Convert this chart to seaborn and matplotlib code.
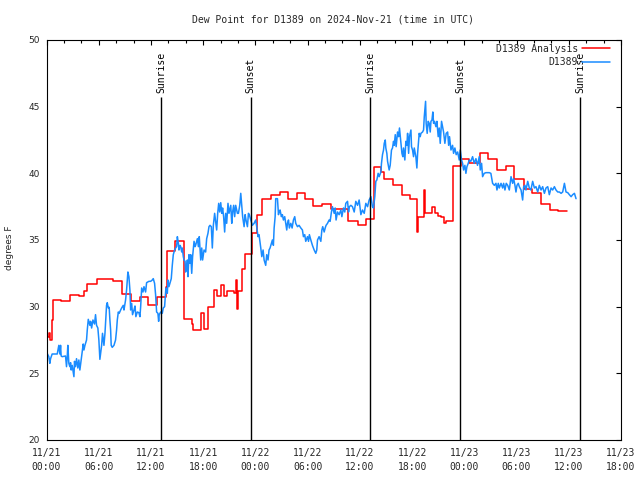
import matplotlib
matplotlib.use("Agg")
import matplotlib.pyplot as plt
from matplotlib.ticker import MultipleLocator
import numpy as np
import pandas as pd
import seaborn as sns

# ---------------- data ----------------
title = "Dew Point for D1389 on 2024-Nov-21 (time in UTC)"
xtick_labels = ["11/21\n00:00", "11/21\n06:00", "11/21\n12:00", "11/21\n18:00",
                "11/22\n00:00", "11/22\n06:00", "11/22\n12:00", "11/22\n18:00",
                "11/23\n00:00", "11/23\n06:00", "11/23\n12:00", "11/23\n18:00"]
yticks = [20, 25, 30, 35, 40, 45, 50]

# sun events (minutes after 11/21 00:00 UTC)
sun_names = ["Sunrise", "Sunset", "Sunrise", "Sunset", "Sunrise"]
sun_minutes = [789, 1407, 2232, 2851, 3679]

# D1389 Analysis (step series): minutes after start, value (deg F)
red_minutes = [0, 16, 23, 39, 43, 101, 161, 223, 257, 281,
               345, 395, 460, 522, 584, 642, 699, 762, 821, 828,
               883, 947, 1005, 1012, 1067, 1085, 1113, 1154, 1178, 1200,
               1223, 1247, 1290, 1304, 1311, 1318, 1350, 1368, 1419, 1449,
               1488, 1545, 1610, 1665, 1725, 1782, 1840, 1897, 1959, 2079,
               2144, 2201, 2258, 2309, 2323, 2385, 2447, 2506, 2557, 2562,
               2603, 2610, 2654, 2677, 2698, 2718, 2741, 2753, 2803, 2856,
               2913, 2989, 3045, 3105, 3167, 3224, 3289, 3344, 3408, 3472,
               3528, 3585]
red_values = [27.7, 28.0, 27.5, 29.0, 30.5, 30.4, 30.9, 30.8, 31.2, 31.7,
              32.1, 32.05, 31.9, 30.95, 30.4, 30.7, 30.1, 30.7, 31.5, 34.2,
              34.9, 29.05, 28.7, 28.25, 29.55, 28.3, 29.95, 31.25, 30.8, 31.6,
              30.8, 31.2, 31.0, 32.0, 29.8, 31.2, 32.8, 33.95, 35.5, 36.9,
              38.05, 38.4, 38.6, 38.05, 38.5, 38.05, 37.55, 37.7, 37.3, 36.4,
              36.1, 36.55, 40.5, 40.1, 39.6, 39.1, 38.4, 38.1, 35.6, 36.75,
              38.75, 37.0, 37.45, 37.0, 36.8, 36.75, 36.3, 36.4, 40.55, 41.1,
              40.8, 41.5, 41.1, 40.25, 40.55, 39.6, 38.8, 38.55, 37.7, 37.25,
              37.15, 37.15]

# D1389 observations
blue_minutes = [
    0, 16, 23, 28, 39, 74, 85, 92, 97, 101, 108, 131, 138, 143, 147, 154, 161, 166, 170, 177,
    189, 193, 200, 207, 216, 223, 230, 239, 246, 253, 258, 265, 276, 281, 288, 299, 304, 311, 320, 331,
    338, 345, 354, 361, 368, 373, 380, 386, 396, 403, 409, 414, 419, 426, 432, 437, 442, 446, 453, 465,
    476, 483, 488, 495, 501, 511, 518, 529, 534, 545, 552, 561, 568, 575, 580, 587, 593, 603, 610, 616,
    626, 637, 644, 649, 656, 665, 672, 683, 690, 706,
    718, 729, 736, 745, 752, 759, 768, 773, 777, 787, 798, 805, 814, 819, 823, 833, 837, 844, 851, 860,
    867, 874, 879, 883, 890, 897, 902, 909, 913, 920, 925, 932, 936, 943, 948, 955, 959, 966, 971, 975,
    982, 989, 994, 1001, 1007, 1017, 1024, 1028, 1040, 1047, 1053, 1063, 1070, 1076, 1086, 1097, 1104, 1113, 1120, 1127,
    1136, 1143, 1150, 1159, 1166, 1173, 1180, 1187, 1194, 1201, 1208, 1214, 1221, 1228, 1235, 1242, 1251, 1258, 1270, 1277,
    1283, 1290, 1297, 1304, 1316, 1323, 1332, 1339, 1346, 1352, 1362, 1369, 1375, 1385, 1392, 1398,
    1408, 1419, 1431, 1442, 1449, 1458, 1465, 1477, 1484, 1493, 1500, 1511, 1518, 1527, 1534, 1541, 1550, 1557, 1564, 1569,
    1576, 1580, 1592, 1599, 1603, 1610, 1619, 1626, 1633, 1642, 1649, 1656, 1661, 1668, 1674, 1684, 1693, 1702, 1711, 1718,
    1730, 1741, 1753, 1764, 1771, 1780, 1787, 1799, 1806, 1812, 1822, 1833, 1845, 1856, 1863, 1868, 1879, 1891, 1898, 1904,
    1914, 1921, 1927, 1937, 1948, 1955, 1964, 1971, 1983, 1990, 1996, 2006, 2017, 2029, 2036, 2047, 2056, 2063, 2075, 2082,
    2088, 2098, 2109, 2121, 2132, 2144, 2155,
    2167, 2178, 2190, 2201, 2213, 2224, 2236, 2247, 2254, 2263, 2270, 2277, 2286, 2293, 2305, 2309, 2316, 2323, 2328, 2335,
    2339, 2346, 2351, 2362, 2369, 2378, 2385, 2392, 2397, 2404, 2410, 2420, 2427, 2433, 2443, 2450, 2456, 2461, 2470, 2477,
    2484, 2489, 2496, 2502, 2512, 2516, 2523, 2530, 2535, 2546, 2553, 2558, 2565, 2569, 2576, 2581, 2592, 2599, 2604, 2608,
    2613, 2617, 2624, 2631, 2638, 2645, 2650, 2657, 2663, 2668, 2675, 2684, 2691, 2700, 2707, 2714, 2723, 2730, 2737, 2746,
    2755, 2765, 2772, 2778,
    2788, 2799, 2806, 2815, 2824, 2834, 2845, 2852, 2861, 2868, 2875, 2884, 2891, 2898, 2907, 2914, 2925, 2937, 2948, 2960,
    2971, 2983, 2990, 2999, 3006, 3017, 3029, 3040, 3052, 3063, 3075, 3087, 3098, 3105, 3114, 3121, 3133, 3144, 3151, 3160,
    3169, 3179, 3190, 3202, 3213, 3220, 3229, 3236, 3243, 3252, 3259, 3271, 3282, 3289, 3298, 3305, 3317, 3328, 3339, 3351,
    3363, 3374, 3386, 3397, 3409, 3420, 3432, 3443, 3455, 3466, 3478, 3489, 3501, 3512, 3524, 3535, 3547, 3558, 3570, 3581,
    3593, 3604, 3616, 3627, 3639, 3650]
blue_values = [
    26.6, 26.25, 25.75, 26.1, 26.45, 26.45, 27.1, 26.45, 27.1, 26.3, 26.25, 26.3, 25.5, 26.25, 27.1, 25.75, 25.5, 25.8, 25.25, 25.6,
    24.75, 25.9, 25.5, 26.1, 25.4, 26.0, 25.25, 26.0, 26.6, 27.2, 26.75, 27.1, 27.5, 28.25, 29.05, 28.6, 28.9, 28.4, 29.0, 28.7,
    29.4, 28.6, 28.4, 27.5, 26.05, 26.5, 27.1, 28.0, 27.1, 28.0, 29.1, 30.1, 30.3, 29.9, 29.95, 29.0, 28.25, 27.1, 26.95, 27.1,
    27.5, 28.25, 29.0, 29.6, 29.5, 29.75, 29.9, 30.1, 29.75, 30.5, 31.25, 32.6, 32.25, 31.25, 29.75, 30.25, 29.4, 29.75, 30.05, 29.25,
    29.6, 29.55, 29.25, 30.0, 31.4, 31.1, 31.5, 31.1, 31.8, 31.9,
    31.9, 32.0, 32.1, 31.75, 30.9, 29.6, 29.5, 28.9, 29.4, 29.6, 29.5, 29.9, 30.0, 30.75, 31.4, 31.0, 32.0, 31.5, 31.75, 32.1,
    33.1, 33.9, 34.1, 34.25, 34.4, 34.5, 35.25, 34.75, 34.25, 34.6, 34.5, 34.1, 34.4, 33.75, 33.5, 33.4, 32.6, 32.9, 33.5, 32.25,
    33.9, 33.25, 33.9, 32.5, 33.75, 34.9, 34.5, 34.6, 35.1, 34.5, 35.25, 33.5, 34.4, 33.5, 34.25, 34.1, 35.1, 35.5, 36.0, 36.1,
    36.0, 34.4, 36.1, 37.0, 36.4, 35.75, 37.0, 37.75, 37.1, 37.8, 37.0, 37.4, 36.75, 35.6, 37.0, 36.25, 37.75, 37.0, 37.6, 36.25,
    37.1, 37.6, 36.75, 37.6, 37.0, 37.0, 37.6, 38.5, 37.5, 36.75, 36.0, 36.9, 36.5, 36.0, 37.0, 36.9,
    36.5, 36.1, 36.25, 36.5, 36.0, 35.25, 35.4, 34.4, 33.75, 34.25, 33.5, 33.1, 33.9, 33.5, 34.25, 34.4, 34.75, 35.0, 34.6, 35.9,
    36.75, 38.1, 38.1, 36.9, 37.1, 37.25, 36.75, 36.9, 36.5, 36.75, 36.25, 35.75, 36.25, 36.5, 35.9, 36.25, 35.9, 36.5, 36.75, 36.25,
    36.0, 36.1, 35.9, 35.75, 35.25, 35.4, 34.9, 35.25, 34.9, 35.4, 35.0, 34.6, 34.25, 34.0, 34.25, 35.0, 35.25, 34.9, 35.75, 36.0,
    35.6, 35.9, 36.1, 36.25, 36.5, 36.4, 37.1, 37.5, 37.0, 37.4, 36.5, 37.1, 36.9, 37.25, 36.75, 37.4, 37.1, 37.75, 37.9, 37.1,
    37.5, 37.6, 37.5, 37.1, 37.9, 37.6, 38.0,
    36.9, 37.25, 37.0, 37.75, 37.5, 38.0, 38.25, 37.5, 37.4, 38.25, 39.4, 39.5, 40.0, 39.75, 40.1, 40.75, 41.4, 41.75, 42.25, 42.5,
    41.9, 41.5, 40.9, 40.25, 40.6, 41.75, 41.9, 42.4, 42.1, 42.9, 42.0, 43.1, 42.75, 43.4, 42.25, 41.5, 41.25, 41.9, 41.0, 42.4,
    42.1, 43.0, 41.5, 42.75, 43.25, 42.0, 41.75, 41.25, 41.9, 41.25, 40.4, 41.5, 42.5, 43.0, 42.75, 43.0, 43.1, 43.25, 44.25, 44.75,
    45.4, 43.75, 43.0, 43.9, 43.75, 43.1, 43.9, 44.0, 44.6, 43.75, 43.9, 43.5, 43.9, 42.75, 43.4, 42.25, 43.9, 43.5, 43.1, 42.25,
    43.0, 43.1, 42.1, 42.75,
    41.75, 42.1, 41.5, 41.9, 41.4, 41.6, 41.0, 41.75, 41.0, 40.75, 40.25, 40.6, 40.0, 40.5, 40.75, 41.0, 40.9, 41.25, 40.75, 41.1,
    40.6, 41.25, 40.25, 40.75, 39.75, 40.0, 40.05, 40.05, 40.05, 40.0, 39.25, 39.1, 39.25, 38.75, 39.25, 38.9, 39.25, 38.9, 39.25, 38.75,
    39.25, 39.1, 38.75, 39.75, 39.25, 39.6, 39.1, 38.6, 39.1, 39.25, 39.0, 38.75, 38.0, 39.0, 39.1, 38.75, 39.4, 38.9, 38.75, 39.4,
    38.9, 39.0, 38.6, 39.1, 38.75, 39.0, 38.5, 38.9, 39.0, 38.4, 38.9, 38.75, 39.0, 38.75, 38.6, 38.6, 38.5, 38.6, 39.25, 38.6,
    38.55, 38.4, 38.25, 38.4, 38.5, 38.1]

n_b = min(len(blue_minutes), len(blue_values))
red_df = pd.DataFrame({"hour": np.array(red_minutes) / 60.0, "val": red_values})
blue_df = pd.DataFrame({"hour": np.array(blue_minutes[:n_b]) / 60.0, "val": blue_values[:n_b]})

# ---------------- plot ----------------
sns.set_theme(style="white")
plt.rcParams["font.family"] = ["DejaVu Sans Mono"]
plt.rcParams["axes.linewidth"] = 0.8

fig = plt.figure(figsize=(6.4, 4.8), dpi=100)
ax = fig.add_axes([46.5 / 640, 40 / 480, 574.5 / 640, 400 / 480])

sns.lineplot(data=red_df, x="hour", y="val", estimator=None, sort=False,
             drawstyle="steps-post", color="#ff0000", lw=1.1,
             label="D1389 Analysis", ax=ax)
sns.lineplot(data=blue_df, x="hour", y="val", estimator=None, sort=False,
             color="#1a8cff", lw=1.1, label="D1389", ax=ax)

sun_hours = np.array(sun_minutes) / 60.0
ax.vlines(sun_hours, 20, 45.7, color="black", lw=1.0)
for h, name in zip(sun_hours, sun_names):
    ax.text(h, 46.05, name, rotation=90, ha="center", va="bottom", fontsize=7,
            color="black")

ax.set_xlim(0, 66)
ax.set_ylim(20, 50)
ax.set_xticks(np.arange(0, 67, 6))
ax.set_xticklabels(xtick_labels, fontsize=7, linespacing=1.5)
ax.xaxis.set_minor_locator(MultipleLocator(2))
ax.set_yticks(yticks)
ax.set_yticklabels([str(v) for v in yticks], fontsize=6.5, family="DejaVu Sans")
ax.tick_params(which="both", direction="in", top=True, right=True,
               color="black", width=0.8)
ax.tick_params(which="major", length=3.6)
ax.tick_params(which="minor", length=2.4)
ax.tick_params(axis="x", pad=6)
ax.tick_params(axis="y", pad=5)
for s in ax.spines.values():
    s.set_color("black")
    s.set_linewidth(0.8)

ax.set_xlabel("")
ax.set_ylabel("degrees F", fontsize=6.5, family="DejaVu Sans")
ax.yaxis.set_label_coords(-0.057, 0.48)

ax.legend(loc="upper right", bbox_to_anchor=(1 - 7 / 574.5, 1.0), frameon=False,
          markerfirst=False, prop={"family": "DejaVu Sans Mono", "size": 7},
          handlelength=2.9, handletextpad=0.4, labelspacing=0.35,
          borderpad=0.1, borderaxespad=0.3)

fig.text(333.5 / 640, 1 - 19 / 480, title, ha="center", va="center", fontsize=7)

fig.savefig("out.png", dpi=100)
